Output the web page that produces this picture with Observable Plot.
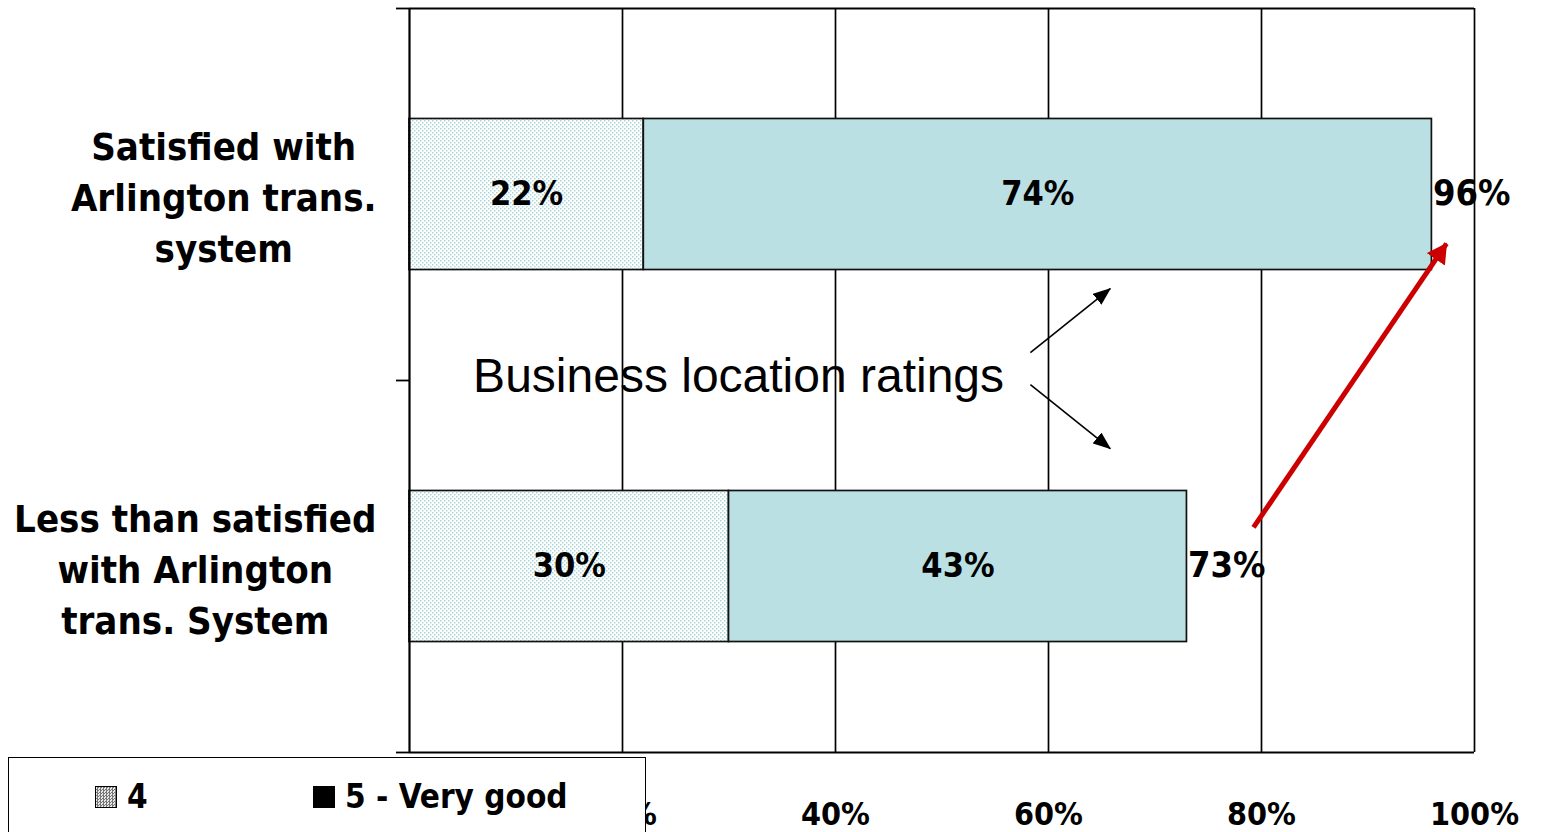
<!DOCTYPE html>
<html>
<head>
<meta charset="utf-8">
<script src="https://cdn.jsdelivr.net/npm/d3@7"></script>
<script src="https://cdn.jsdelivr.net/npm/@observablehq/plot@0.6"></script>
<style>
  html, body { margin: 0; padding: 0; background: #fff; }
  #wrap { position: relative; width: 1547px; height: 832px; overflow: hidden; }
  #wrap svg { display: block; }
  #legend {
    position: absolute; left: 8px; top: 757px; width: 638px; height: 110px;
    border: 1.5px solid #000; background: #fff; box-sizing: border-box;
    font-family: "DejaVu Sans Condensed", "DejaVu Sans", sans-serif; font-weight: bold; font-size: 33px;
  }
  .item { position: absolute; top: 19px; display: flex; align-items: center; }
  .sw { width: 22px; height: 22px; box-sizing: border-box; border: 1px solid #000; margin-right: 10px; }
</style>
</head>
<body>
<div id="wrap"></div>
<script>
// ---- data ----
const categories = ["Satisfied with\nArlington trans.\nsystem", "Less than satisfied\nwith Arlington\ntrans. System"];
const seriesNames = ["4", "5 - Very good"];
const rating4 = [0.22, 0.30];
const rating5 = [0.74, 0.43];
const totals = [0.96, 0.73];
const xTicks = [0, 0.2, 0.4, 0.6, 0.8, 1.0];
const xTickLabels = ["0%", "20%", "40%", "60%", "80%", "100%"];
const noteText = ["Business location ratings"];
const noteAt = [{x: 0.309, y: 0.99}];
const blackArrows = [
  {x1: 0.583, y1: 0.925, x2: 0.658, y2: 0.753},
  {x1: 0.583, y1: 1.011, x2: 0.658, y2: 1.183}
];
const redArrow = [{x1: 0.7925, y1: 1.395, x2: 0.9737, y2: 0.632}];

// ---- derived table ----
const rows = [];
categories.forEach((c, i) => {
  rows.push({cat: c, i, series: seriesNames[0], x1: 0, x2: rating4[i], v: rating4[i]});
  rows.push({cat: c, i, series: seriesNames[1], x1: rating4[i], x2: rating4[i] + rating5[i], v: rating5[i]});
});
const totalRows = categories.map((c, i) => ({i, v: totals[i]}));

const boldFont = "'DejaVu Sans Condensed', 'DejaVu Sans', sans-serif";
const halfBar = 0.203;
const labelSize = 38;
const pct = d3.format(".0%");

// measure category label block widths
const ctx = document.createElement("canvas").getContext("2d");
ctx.font = `bold ${labelSize}px 'DejaVu Sans Condensed'`;
const blockW = categories.map(c => d3.max(c.split("\n"), l => ctx.measureText(l).width));
const gap = 33;

const plot = Plot.plot({
  width: 1547,
  height: 832,
  marginLeft: 409,
  marginRight: 73,
  marginTop: 8,
  marginBottom: 80,
  style: {fontFamily: boldFont, fontWeight: "bold", fontSize: "32px", color: "#000", background: "#fff"},
  x: {domain: [0, 1]},
  y: {domain: [0, 2], reverse: true},
  marks: [
    // gridlines
    Plot.ruleX(xTicks.slice(1), {y1: 0, y2: 2, stroke: "#000", strokeWidth: 1.7}),
    Plot.ruleY([0, 2], {x1: 0, x2: 1, stroke: "#000", strokeWidth: 1.8}),
    // bars
    Plot.rect(rows, {
      x1: "x1", x2: "x2",
      y1: d => d.i + 0.5 - halfBar, y2: d => d.i + 0.5 + halfBar,
      fill: d => d.series === seriesNames[0] ? "url(#dots)" : "#BBE0E3",
      stroke: "#111", strokeWidth: 1.7
    }),
    Plot.ruleX([0], {y1: 0, y2: 2, stroke: "#000", strokeWidth: 2.2}),
    // axes
    Plot.axisY({ticks: [0, 1, 2], tickSize: 13, tickFormat: () => "", strokeWidth: 1.8}),
    Plot.axisX({ticks: xTicks, tickFormat: (d, k) => xTickLabels[k], tickSize: 0, tickPadding: 50, fontSize: 32}),
    // segment labels
    Plot.text(rows, {
      x: d => (d.x1 + d.x2) / 2, y: d => d.i + 0.5, text: d => pct(d.v),
      fontFamily: boldFont, fontWeight: "bold", fontSize: 34, fill: "#000"
    }),
    // total labels
    Plot.text(totalRows, {
      x: "v", y: d => d.i + 0.5, text: d => pct(d.v), textAnchor: "start", dx: 1, dy: -1,
      fontFamily: boldFont, fontWeight: "bold", fontSize: 36, fill: "#000"
    }),
    // category labels
    ...categories.map((c, i) => Plot.text([c], {
      x: 0, y: i + 0.5, text: d => d, dx: -(gap + blockW[i] / 2), lineHeight: 1.355,
      fontFamily: boldFont, fontWeight: "bold", fontSize: labelSize, fill: "#000"
    })),
    // annotation
    Plot.text(noteAt, {
      x: "x", y: "y", text: (d, k) => noteText[k],
      fontFamily: "'Liberation Sans', Arial, sans-serif", fontWeight: "normal", fontSize: 48, fill: "#000"
    }),
    Plot.link(blackArrows, {x1: "x1", y1: "y1", x2: "x2", y2: "y2", stroke: "#000", strokeWidth: 1.6}),
    Plot.link(redArrow, {x1: "x1", y1: "y1", x2: "x2", y2: "y2", stroke: "#CC0000", strokeWidth: 5})
  ]
});

// defs: dotted pattern + arrowheads
const svg = d3.select(plot);
const defs = svg.insert("defs", ":first-child");
const pat = defs.append("pattern").attr("id", "dots").attr("patternUnits", "userSpaceOnUse")
  .attr("width", 4).attr("height", 4);
pat.append("rect").attr("width", 4).attr("height", 4).attr("fill", "#fff");
pat.append("rect").attr("x", 0).attr("y", 0).attr("width", 1.5).attr("height", 1.5).attr("fill", "#A9D5D9");
pat.append("rect").attr("x", 2).attr("y", 2).attr("width", 1.5).attr("height", 1.5).attr("fill", "#A9D5D9");

function marker(id, color, len, wid) {
  defs.append("marker").attr("id", id).attr("markerUnits", "userSpaceOnUse")
    .attr("viewBox", `0 ${-wid/2} ${len} ${wid}`).attr("refX", len - 1).attr("refY", 0)
    .attr("markerWidth", len).attr("markerHeight", wid).attr("orient", "auto")
    .append("path").attr("d", `M0,${-wid/2}L${len},0L0,${wid/2}Z`).attr("fill", color);
}
marker("tri-black", "#000", 18, 14);
marker("tri-red", "#CC0000", 20, 22);
const linkGroups = svg.selectAll("g[aria-label='link']").nodes();
if (linkGroups[0]) d3.select(linkGroups[0]).selectAll("path,line").attr("marker-end", "url(#tri-black)");
if (linkGroups[1]) d3.select(linkGroups[1]).selectAll("path,line").attr("marker-end", "url(#tri-red)");

const wrap = document.getElementById("wrap");
wrap.appendChild(plot);

// legend
const legend = document.createElement("div");
legend.id = "legend";
const legendX = [86, 304];
seriesNames.forEach((s, k) => {
  const it = document.createElement("div");
  it.className = "item";
  it.style.left = legendX[k] + "px";
  const sw = document.createElement("div");
  sw.className = "sw";
  sw.style.background = k === 0
    ? "repeating-conic-gradient(#777 0 25%, #e8e8e8 0 50%) 0 0 / 3px 3px"
    : "#000";
  const tx = document.createElement("span");
  tx.textContent = s;
  it.appendChild(sw); it.appendChild(tx);
  legend.appendChild(it);
});
wrap.appendChild(legend);
</script>
</body>
</html>
